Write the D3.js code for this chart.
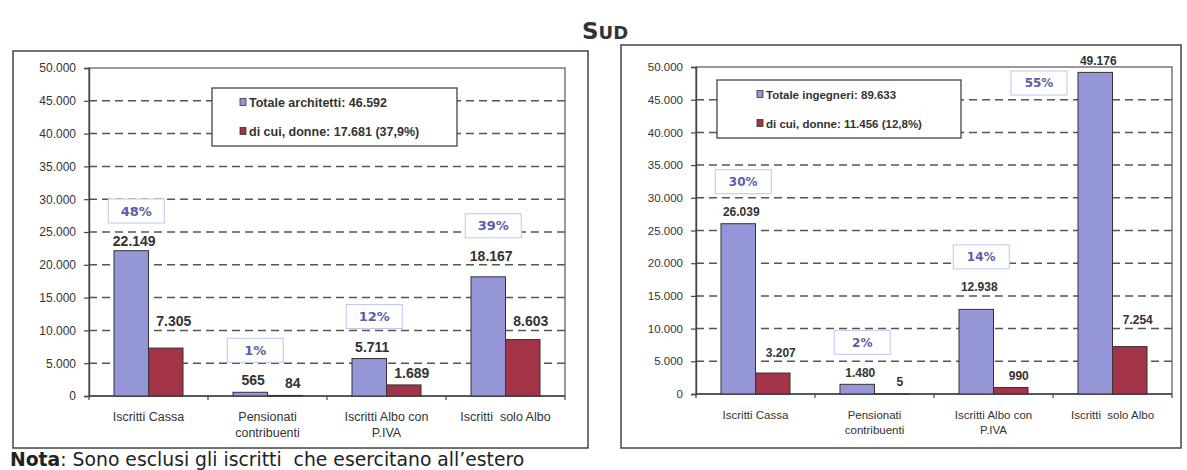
<!DOCTYPE html>
<html>
<head>
<meta charset="utf-8">
<script src="https://cdn.jsdelivr.net/npm/d3@7"></script>
<style>
  body { margin: 0; background: #fff; }
  svg { display: block; }
</style>
</head>
<body>
<div id="chart"></div>
<script>
// dati
const categories = ["Iscritti Cassa", "Pensionati contribuenti", "Iscritti Albo con P.IVA", "Iscritti  solo Albo"];
const categoryLines = [["Iscritti Cassa"], ["Pensionati", "contribuenti"], ["Iscritti Albo con", "P.IVA"], ["Iscritti  solo Albo"]];
const yTicks = [0, 5000, 10000, 15000, 20000, 25000, 30000, 35000, 40000, 45000, 50000];

const architettiTot = [22149, 565, 5711, 18167];
const architettiDonne = [7305, 84, 1689, 8603];
const architettiPerc = ["48%", "1%", "12%", "39%"];
const architettiLegend = ["Totale architetti: 46.592", "di cui, donne: 17.681 (37,9%)"];

const ingegneriTot = [26039, 1480, 12938, 49176];
const ingegneriDonne = [3207, 5, 990, 7254];
const ingegneriPerc = ["30%", "2%", "14%", "55%"];
const ingegneriLegend = ["Totale ingegneri: 89.633", "di cui, donne: 11.456 (12,8%)"];

// colori
const blue = "#9496d8";
const red = "#a33347";
const ink = "#333";
const percColor = "#5a5ea8";

const it = d3.formatLocale({decimal: ",", thousands: ".", grouping: [3], currency: ["€", ""]});
const fmt = it.format(",d");

const svg = d3.select("#chart").append("svg")
  .attr("width", 1187)
  .attr("height", 470);

svg.append("rect").attr("width", 1187).attr("height", 470).attr("fill", "#fff");

// titolo
const title = svg.append("text")
  .attr("x", 582).attr("y", 39)
  .attr("font-family", "DejaVu Sans, Verdana, sans-serif")
  .attr("font-weight", "bold")
  .attr("fill", ink);
title.append("tspan").attr("font-size", 23).text("S");
title.append("tspan").attr("font-size", 18).text("UD");

function drawPanel(o) {
  const g = svg.append("g");

  // cornice esterna
  g.append("rect")
    .attr("x", o.box[0]).attr("y", o.box[1])
    .attr("width", o.box[2] - o.box[0]).attr("height", o.box[3] - o.box[1])
    .attr("fill", "none").attr("stroke", "#444").attr("stroke-width", 1.5);

  const x0 = d3.scaleBand()
    .domain(categories)
    .range([o.left, o.right])
    .paddingInner(0.42)
    .paddingOuter(0.21);
  const x1 = d3.scaleBand()
    .domain(["tot", "donne"])
    .range([0, x0.bandwidth()]);
  const y = d3.scaleLinear()
    .domain([0, 50000])
    .range([o.bottom, o.top]);

  const gridTicks = yTicks.filter(t => t > 0 && t < 50000);

  // etichetta sopra la barra, spostata per non sovrapporsi alla griglia
  function labelCenter(v) {
    const top = y(v);
    let c = top - 12;
    const near = gridTicks.map(y).find(gy => Math.abs(c - gy) < 8);
    if (near !== undefined) {
      if (c > near && near + 9 <= top - 9.5) c = near + 9;
      else c = near - 9;
    }
    return c;
  }

  // griglia tratteggiata
  g.selectAll("line.grid")
    .data(gridTicks)
    .join("line")
    .attr("class", "grid")
    .attr("x1", o.left).attr("x2", o.right)
    .attr("y1", d => y(d)).attr("y2", d => y(d))
    .attr("stroke", "#555").attr("stroke-width", 1.5)
    .attr("stroke-dasharray", "8,5");

  // bordo area del grafico
  g.append("rect")
    .attr("x", o.left).attr("y", o.top)
    .attr("width", o.right - o.left).attr("height", o.bottom - o.top)
    .attr("fill", "none").attr("stroke", "#555").attr("stroke-width", 1.2);

  // asse y
  const yAxis = g.append("g")
    .attr("transform", `translate(${o.left},0)`)
    .call(d3.axisLeft(y).tickValues(yTicks).tickFormat(fmt).tickSize(5).tickPadding(8));
  yAxis.select(".domain").attr("stroke", "#444").attr("stroke-width", 1.4);
  yAxis.selectAll(".tick line").attr("stroke", "#444").attr("stroke-width", 1.2);
  yAxis.selectAll(".tick text")
    .attr("fill", ink)
    .attr("font-family", "Liberation Sans, Arial, sans-serif")
    .attr("font-size", o.axisFont);

  // asse x con tacche ai bordi delle categorie
  const step = x0.step();
  g.append("line")
    .attr("x1", o.left).attr("x2", o.right)
    .attr("y1", o.bottom).attr("y2", o.bottom)
    .attr("stroke", "#444").attr("stroke-width", 1.4);
  g.selectAll("line.xtick")
    .data(d3.range(categories.length + 1))
    .join("line")
    .attr("class", "xtick")
    .attr("x1", i => o.left + i * step).attr("x2", i => o.left + i * step)
    .attr("y1", o.bottom).attr("y2", o.bottom + 4)
    .attr("stroke", "#444").attr("stroke-width", 1.2);

  g.selectAll("text.cat")
    .data(categories)
    .join("text")
    .attr("class", "cat")
    .attr("x", d => x0(d) + x0.bandwidth() / 2)
    .attr("y", o.bottom + 25)
    .attr("text-anchor", "middle")
    .attr("fill", ink)
    .attr("font-family", "Liberation Sans, Arial, sans-serif")
    .attr("font-size", o.catFont)
    .style("white-space", "pre")
    .each(function(d, i) {
      d3.select(this).selectAll("tspan")
        .data(categoryLines[i])
        .join("tspan")
        .attr("x", x0(d) + x0.bandwidth() / 2)
        .attr("dy", (l, j) => j === 0 ? 0 : o.catFont * 1.3)
        .attr("fill", ink)
        .text(l => l);
    });

  // barre
  const rows = categories.map((c, i) => ({cat: c, tot: o.tot[i], donne: o.donne[i], perc: o.perc[i]}));
  const groups = g.selectAll("g.grp")
    .data(rows)
    .join("g")
    .attr("class", "grp")
    .attr("transform", d => `translate(${x0(d.cat)},0)`);

  groups.selectAll("rect")
    .data(d => [{k: "tot", v: d.tot}, {k: "donne", v: d.donne}])
    .join("rect")
    .attr("x", d => x1(d.k))
    .attr("y", d => y(d.v))
    .attr("width", x1.bandwidth())
    .attr("height", d => o.bottom - y(d.v))
    .attr("fill", d => d.k === "tot" ? blue : red)
    .attr("stroke", "#333").attr("stroke-width", 1);

  // le etichette delle donne stanno un po' a destra, come nell'originale
  groups.selectAll("text.val")
    .data(d => [{k: "tot", v: d.tot}, {k: "donne", v: d.donne}])
    .join("text")
    .attr("class", "val")
    .attr("x", d => x1(d.k) + x1.bandwidth() / 2 + (d.k === "tot" ? 3 : 8))
    .attr("y", d => labelCenter(d.v) + o.valFont * 0.36)
    .attr("text-anchor", "middle")
    .attr("fill", ink)
    .attr("font-family", "Liberation Sans, Arial, sans-serif")
    .attr("font-weight", "bold")
    .attr("font-size", o.valFont)
    .text(d => fmt(d.v));

  // riquadri percentuali
  groups.each(function(d) {
    const grp = d3.select(this);
    const barX = x1("tot");
    const bw = x1.bandwidth();
    const t = grp.append("text")
      .attr("text-anchor", "middle")
      .attr("fill", percColor)
      .attr("font-family", "DejaVu Sans, Verdana, sans-serif")
      .attr("font-weight", "bold")
      .attr("font-size", o.percFont)
      .text(d.perc);
    const w = 56;
    const h = 24;
    let cy = labelCenter(d.tot) - 30;
    let cx = barX + bw / 2 + 5;
    if (cy - h / 2 < o.top) {
      cy = o.top + 16;
      cx = barX - 11 - w / 2;
    }
    grp.insert("rect", "text")
      .attr("x", cx - w / 2).attr("y", cy - h / 2)
      .attr("width", w).attr("height", h)
      .attr("fill", "#fff")
      .attr("stroke", "#bcc6ec").attr("stroke-width", 1);
    t.attr("x", cx).attr("y", cy + o.percFont * 0.36);
  });

  // legenda
  const lg = g.append("g");
  lg.append("rect")
    .attr("x", o.legend[0]).attr("y", o.legend[1])
    .attr("width", o.legend[2] - o.legend[0]).attr("height", o.legend[3] - o.legend[1])
    .attr("fill", "#fff").attr("stroke", "#444").attr("stroke-width", 1.3);
  const rowH = (o.legend[3] - o.legend[1]) / 2;
  o.legendText.forEach((txt, i) => {
    const cy = o.legend[1] + rowH * (i + 0.5);
    lg.append("rect")
      .attr("x", o.legendX).attr("y", cy - 4)
      .attr("width", 6).attr("height", 7)
      .attr("fill", i === 0 ? blue : red)
      .attr("stroke", "#333").attr("stroke-width", 0.8);
    lg.append("text")
      .attr("x", o.legendX + 9).attr("y", cy + 4.5)
      .attr("fill", ink)
      .attr("font-family", "Liberation Sans, Arial, sans-serif")
      .attr("font-weight", "bold")
      .attr("font-size", o.legendFont)
      .text(txt);
  });
}

drawPanel({
  box: [13, 51, 588, 448],
  left: 89, right: 565, top: 68, bottom: 396,
  tot: architettiTot, donne: architettiDonne, perc: architettiPerc,
  legend: [212, 88, 457, 146], legendX: 240, legendText: architettiLegend, legendFont: 12.5,
  axisFont: 12, catFont: 12.5, valFont: 14, percFont: 13
});

drawPanel({
  box: [621, 45, 1181, 448],
  left: 696, right: 1172, top: 67, bottom: 394,
  tot: ingegneriTot, donne: ingegneriDonne, perc: ingegneriPerc,
  legend: [717, 80, 961, 138], legendX: 757, legendText: ingegneriLegend, legendFont: 11.5,
  axisFont: 11.5, catFont: 11.5, valFont: 12, percFont: 12
});

// nota
const nota = svg.append("text")
  .attr("x", 10).attr("y", 466)
  .attr("font-family", "DejaVu Sans, Verdana, sans-serif")
  .attr("font-size", 18.8)
  .attr("fill", "#222")
  .style("white-space", "pre");
nota.append("tspan").attr("font-weight", "bold").text("Nota");
nota.append("tspan").text(": Sono esclusi gli iscritti  che esercitano all\u2019estero");
</script>
</body>
</html>
